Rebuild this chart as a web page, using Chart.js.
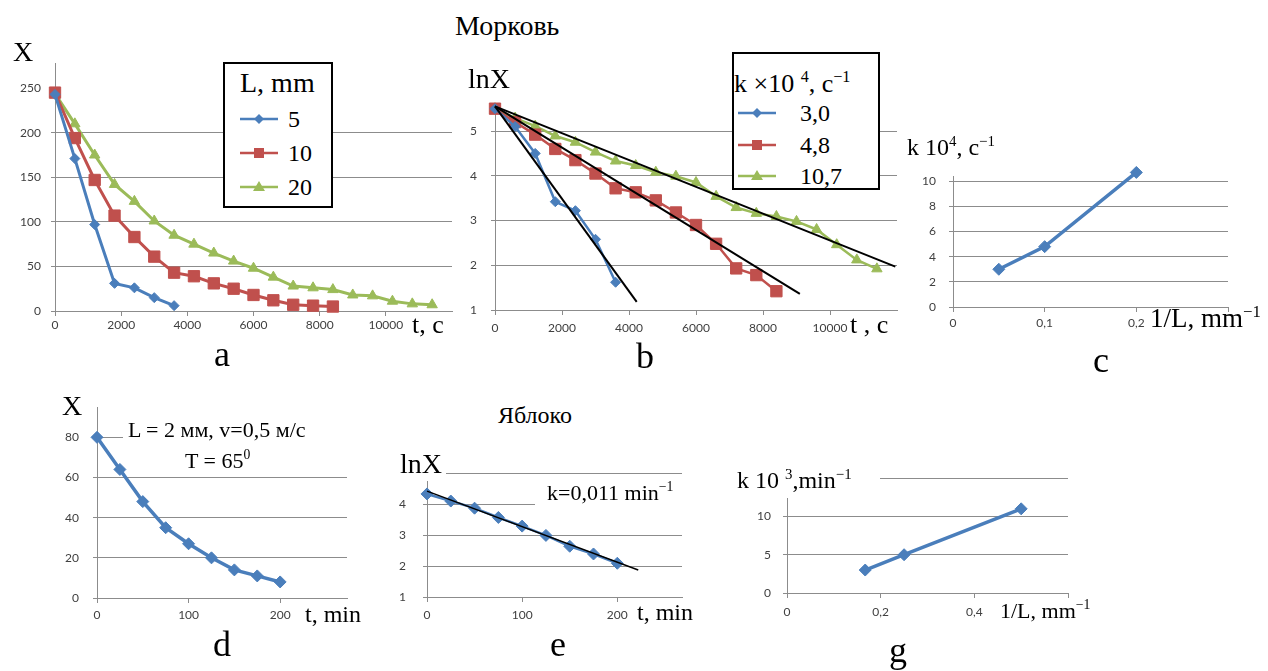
<!DOCTYPE html>
<html lang="ru">
<head>
<meta charset="utf-8">
<title>Морковь / Яблоко</title>
<script src="https://cdn.jsdelivr.net/npm/chart.js@4.4.1/dist/chart.umd.min.js"></script>
<style>
  html, body { margin: 0; background: #fff; }
  body { position: relative; width: 1268px; height: 671px; overflow: hidden;
         font-family: "Liberation Serif", "DejaVu Serif", serif; color: #000; }
  canvas, .t, .box, .wipe, svg { position: absolute; }
  .t { white-space: nowrap; line-height: 1; }
  .t sup { font-size: 62%; line-height: 0; vertical-align: baseline; position: relative; top: -0.62em; }
  .box { border: 2px solid #000; background: #fff; box-sizing: border-box; }
  .wipe { background: #fff; }
</style>
</head>
<body>
<script>
// ---- Морковь ----
const tCarrot = [0, 600, 1200, 1800, 2400, 3000, 3600, 4200, 4800, 5400,
                 6000, 6600, 7200, 7800, 8400, 9000, 9600, 10200, 10800, 11400];
const xL5  = [243, 171, 97, 31, 26, 15, 6];
const xL10 = [245, 194, 147, 107, 83, 61, 43, 39, 31, 25, 18, 12, 7, 6, 5];
const xL20 = [244, 210, 175, 142, 123, 101, 85, 75, 65, 56, 48, 38, 28, 26, 24, 18, 17, 11, 8, 7];
const lnL5  = [5.5, 5.1, 4.5, 3.42, 3.22, 2.58, 1.62];
const lnL10 = [5.5, 5.2, 4.92, 4.6, 4.35, 4.05, 3.72, 3.63, 3.45, 3.18, 2.9, 2.48, 1.93, 1.78, 1.42];
const lnL20 = [5.5, 5.29, 5.11, 4.89, 4.75, 4.53, 4.33, 4.23, 4.08, 3.99, 3.85, 3.54, 3.29, 3.16,
               3.09, 2.98, 2.8, 2.46, 2.12, 1.92];
const fitT5 = [0, 4230],   fitLn5 = [5.55, 1.18];
const fitT10 = [0, 9100],  fitLn10 = [5.55, 1.36];
const fitT20 = [0, 11950], fitLn20 = [5.55, 1.97];
const legendA = ['5', '10', '20'];
const legendB = ['3,0', '4,8', '10,7'];
const invLCarrot = [0.05, 0.1, 0.2];
const kCarrot = [3.0, 4.8, 10.7];

// ---- Яблоко ----
const tApple = [0, 25, 50, 75, 100, 125, 150, 175, 200];
const xApple = [80, 64, 48, 35, 27, 20, 14, 11, 8];
const lnApple = [4.33, 4.1, 3.87, 3.57, 3.29, 2.99, 2.64, 2.39, 2.09];
const fitTApple = [0, 222], fitLnApple = [4.42, 1.87];
const invLApple = [0.167, 0.25, 0.5];
const kApple = [3, 5, 11];

// ---- tick values ----
const ticksTimeS = [0, 2000, 4000, 6000, 8000, 10000];
const ticksXa = [0, 50, 100, 150, 200, 250];
const ticksLnB = [1, 2, 3, 4, 5];
const ticksInvLc = [0, 0.1, 0.2, 0.3];
const ticksKc = [0, 2, 4, 6, 8, 10];
const ticksTimeMin = [0, 100, 200];
const ticksXd = [0, 20, 40, 60, 80];
const ticksLnE = [1, 2, 3, 4, 5];
const ticksInvLg = [0, 0.2, 0.4, 0.6];
const ticksKg = [0, 5, 10, 15];

const GRID = '#8c8c8c';
const BLUE = '#4a7ebb', RED = '#c0504d', GREEN = '#9bbb59';

Chart.defaults.font.family = 'Lato, "Liberation Sans", sans-serif';
Chart.defaults.font.size = 12;
Chart.defaults.color = '#404040';

const pts = (xs, ys) => ys.map((y, i) => ({ x: xs[i], y }));
const plain = v => String(v);
const comma = v => String(+v.toFixed(2)).replace('.', ',');

function series(xs, ys, color, style, radius, width) {
  return {
    data: pts(xs, ys), borderColor: color, backgroundColor: color,
    pointBackgroundColor: color, pointBorderColor: color, pointBorderWidth: 1,
    pointStyle: style, pointRadius: radius, pointHoverRadius: radius,
    borderWidth: width, showLine: true, clip: false, order: 1
  };
}
function fitLine(xs, ys, width) {
  return { data: pts(xs, ys), borderColor: '#000', borderWidth: width,
           pointRadius: 0, showLine: true, clip: false, order: 0 };
}

// area = where the plot area sits on the page
function panel(area, ax, datasets) {
  const yW = 50, xH = 40, padTop = 14, padRight = 30;
  const w = area.r - area.l + yW + padRight;
  const h = area.b - area.t + padTop + xH;
  const cv = document.createElement('canvas');
  cv.width = w; cv.height = h;
  cv.style.left = (area.l - yW) + 'px';
  cv.style.top = (area.t - padTop) + 'px';
  cv.style.width = w + 'px';
  cv.style.height = h + 'px';
  document.body.appendChild(cv);
  return new Chart(cv, {
    type: 'scatter',
    data: { datasets },
    options: {
      responsive: false, animation: false, devicePixelRatio: 1,
      layout: { padding: { left: 0, top: padTop, right: padRight, bottom: 0 } },
      plugins: { legend: { display: false }, tooltip: { enabled: false } },
      scales: {
        x: {
          type: 'linear', bounds: 'data', min: ax.xmin, max: ax.xmax,
          grid: { drawOnChartArea: false, drawTicks: true, tickLength: 5, color: GRID },
          border: { color: GRID },
          ticks: { padding: ax.xpad, maxRotation: 0, autoSkip: false, callback: ax.xfmt },
          afterBuildTicks: s => { s.ticks = ax.xticks.map(value => ({ value })); },
          afterFit: s => { s.height = xH; }
        },
        y: {
          type: 'linear', bounds: 'data', min: ax.ymin, max: ax.ymax,
          grid: { color: ax.ygrid || GRID, tickColor: GRID, drawTicks: true, tickLength: 4 },
          border: { color: GRID },
          ticks: { padding: ax.ypad, autoSkip: false, callback: ax.yfmt || plain },
          afterBuildTicks: s => { s.ticks = ax.yticks.map(value => ({ value })); },
          afterFit: s => { s.width = yW; }
        }
      }
    }
  });
}

function txt(html, x, base, size, center) {
  const d = document.createElement('div');
  d.className = 't';
  d.innerHTML = html;
  d.style.fontSize = size + 'px';
  d.style.left = x + 'px';
  d.style.top = (base - 0.8375 * size) + 'px';
  if (center) d.style.transform = 'translateX(-50%)';
  document.body.appendChild(d);
}
function rect(cls, l, t, r, b) {
  const d = document.createElement('div');
  d.className = cls;
  Object.assign(d.style, { left: l + 'px', top: t + 'px', width: (r - l) + 'px', height: (b - t) + 'px' });
  document.body.appendChild(d);
}
function legendKey(x1, x2, y, color, style) {
  const w = x2 - x1, m = w / 2;
  let mark;
  if (style === 'rectRot') mark = `<polygon points="${m},3 ${m + 5},8 ${m},13 ${m - 5},8" fill="${color}"/>`;
  else if (style === 'rect') mark = `<rect x="${m - 5}" y="3" width="10" height="10" fill="${color}"/>`;
  else mark = `<polygon points="${m},2 ${m + 6},12 ${m - 6},12" fill="${color}"/>`;
  const s = document.createElementNS('http://www.w3.org/2000/svg', 'svg');
  s.setAttribute('width', w); s.setAttribute('height', 16);
  s.style.left = x1 + 'px'; s.style.top = (y - 8) + 'px';
  s.innerHTML = `<line x1="0" y1="8" x2="${w}" y2="8" stroke="${color}" stroke-width="2.5"/>` + mark;
  document.body.appendChild(s);
}

// ---------- a: X(t) ----------
panel({ l: 55, r: 452, t: 60, b: 311 },
  { xmin: 0, xmax: 12000, xticks: ticksTimeS, xpad: 2, xfmt: plain,
    ymin: 0, ymax: 278, yticks: ticksXa, ypad: 10,
    ygrid: c => (c.tick && c.tick.value === 250 ? 'rgba(0,0,0,0)' : GRID) },
  [ series(tCarrot, xL5, BLUE, 'rectRot', 5, 3),
    series(tCarrot, xL10, RED, 'rect', 8, 3),
    series(tCarrot, xL20, GREEN, 'triangle', 6, 3) ]);

// ---------- b: lnX(t) ----------
panel({ l: 495, r: 897, t: 97, b: 310 },
  { xmin: 0, xmax: 12000, xticks: ticksTimeS, xpad: 6, xfmt: plain,
    ymin: 1, ymax: 5.6, yticks: ticksLnB, ypad: 14 },
  [ fitLine(fitT5, fitLn5, 2), fitLine(fitT10, fitLn10, 2), fitLine(fitT20, fitLn20, 2),
    series(tCarrot, lnL5, BLUE, 'rectRot', 5, 2.5),
    series(tCarrot, lnL10, RED, 'rect', 8, 2.5),
    series(tCarrot, lnL20, GREEN, 'triangle', 6, 2.5) ]);

// ---------- c: k(1/L) carrot ----------
panel({ l: 953, r: 1228, t: 170, b: 307 },
  { xmin: 0, xmax: 0.3, xticks: ticksInvLc, xpad: 4, xfmt: v => (v > 0.25 ? '' : comma(v)),
    ymin: 0, ymax: 10.4, yticks: ticksKc, ypad: 13 },
  [ series(invLCarrot, kCarrot, BLUE, 'rectRot', 6, 3.5) ]);

// ---------- d: X(t) apple ----------
panel({ l: 97, r: 347, t: 400, b: 598 },
  { xmin: 0, xmax: 273, xticks: ticksTimeMin, xpad: 5, xfmt: plain,
    ymin: 0, ymax: 95, yticks: ticksXd, ypad: 14 },
  [ series(tApple, xApple, BLUE, 'rectRot', 6, 3.5) ]);

// ---------- e: lnX(t) apple ----------
panel({ l: 427, r: 682, t: 463, b: 597 },
  { xmin: 0, xmax: 268, xticks: ticksTimeMin, xpad: 6, xfmt: plain,
    ymin: 1, ymax: 5, yticks: ticksLnE, ypad: 17 },
  [ fitLine(fitTApple, fitLnApple, 1.5),
    series(tApple, lnApple, BLUE, 'rectRot', 6, 2.5) ]);

// ---------- g: k(1/L) apple ----------
panel({ l: 787, r: 1068, t: 473, b: 593 },
  { xmin: 0, xmax: 0.6, xticks: ticksInvLg, xpad: 7, xfmt: v => (v > 0.5 ? '' : comma(v)),
    ymin: 0, ymax: 15, yticks: ticksKg, ypad: 12 },
  [ series(invLApple, kApple, BLUE, 'rectRot', 6, 3.5) ]);

// ---------- text, legends ----------
txt('Морковь', 455, 35, 28);
txt('Яблоко', 498, 423, 24);

// a
txt('X', 13, 61, 28);
txt('t, c', 412, 334, 26);
rect('box', 223, 62, 333, 208);
txt('L, mm', 240, 92, 28);
[BLUE, RED, GREEN].forEach((c, i) => {
  const y = [119, 153, 187][i];
  legendKey(240, 278, y, c, ['rectRot', 'rect', 'triangle'][i]);
  txt(legendA[i], 288, y + 8, 24);
});
txt('a', 222, 366, 36, true);

// b
txt('lnX', 468, 88, 28);
txt('t , c', 850, 334, 26);
rect('box', 732, 52, 880, 190);
txt('k ×10 <sup>4</sup>, c<sup>−1</sup>', 734, 93, 26);
[BLUE, RED, GREEN].forEach((c, i) => {
  const y = [113, 145, 176][i];
  legendKey(738, 776, y, c, ['rectRot', 'rect', 'triangle'][i]);
  txt(legendB[i], 800, y + 8, 24);
});
txt('b', 645, 368, 36, true);

// c
rect('wipe', 905, 137, 1010, 173);
txt('k 10<sup>4</sup>, c<sup>−1</sup>', 907, 155, 24);
txt('1/L, mm<sup>−1</sup>', 1150, 328, 27);
txt('c', 1101, 372, 36, true);

// d
txt('X', 62, 415, 28);
rect('wipe', 123, 420, 350, 446);
rect('wipe', 142, 452, 350, 477);
txt('L = 2 мм, v=0,5 м/с', 128, 437, 22);
txt('T = 65<sup>0</sup>', 185, 468, 22);
txt('t, min', 305, 622, 24);
txt('d', 222, 656, 36, true);

// e
rect('wipe', 398, 448, 446, 481);
txt('lnX', 400, 473, 28);
rect('wipe', 535, 482, 702, 506);
txt('k=0,011 min<sup>−1</sup>', 547, 500, 22);
txt('t, min', 637, 620, 24);
txt('e', 558, 656, 36, true);

// g
rect('wipe', 735, 462, 880, 498);
txt('k 10 <sup>3</sup>,min<sup>−1</sup>', 737, 488, 24);
txt('1/L, mm<sup>−1</sup>', 1000, 618, 22);
txt('g', 898, 662, 36, true);
</script>
</body>
</html>
